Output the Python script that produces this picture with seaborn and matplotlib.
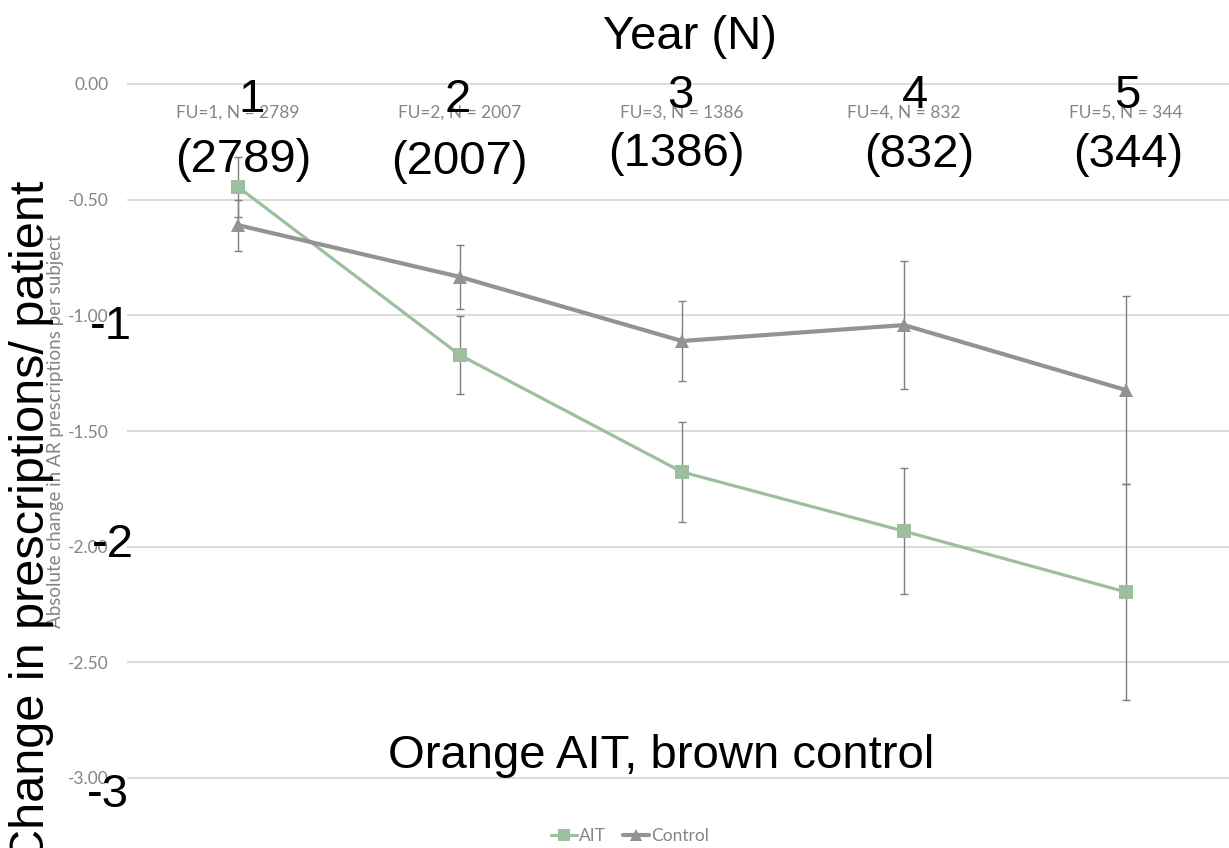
import matplotlib
matplotlib.use("Agg")
import matplotlib.pyplot as plt
from matplotlib.lines import Line2D
import seaborn as sns
import pandas as pd

# ---- data ----
years = [1, 2, 3, 4, 5]
n_subjects = [2789, 2007, 1386, 832, 344]
ait_mean = [-0.445, -1.172, -1.677, -1.933, -2.196]
ait_err = [0.13, 0.17, 0.215, 0.273, 0.465]
ctrl_mean = [-0.61, -0.834, -1.111, -1.042, -1.323]
ctrl_err = [0.11, 0.14, 0.175, 0.275, 0.405]
cat_labels = [f"FU={y}, N = {n}" for y, n in zip(years, n_subjects)]
y_ticks = [0.0, -0.5, -1.0, -1.5, -2.0, -2.5, -3.0]
overlay_ticks = ["-1", "-2", "-3"]

df = pd.DataFrame({
    "year": years * 2,
    "value": ait_mean + ctrl_mean,
    "group": ["AIT"] * 5 + ["Control"] * 5,
})

W, H = 1229, 848
sns.set_theme(style="white")
plt.rcParams["font.family"] = ["Lato", "DejaVu Sans"]

fig = plt.figure(figsize=(W / 100, H / 100), dpi=100)

def fx(x):
    return x / W

def fy(y):
    return 1 - y / H

# axes: x=1 at px 238, 222 px per category; y=0 at px 84, -3 at px 778
ppu_x = 222.0
ppu_y = (778 - 84) / 3.0
y_top, y_bot = 0.05, -3.05
ax_left = 127
x_lo = 0.5
x_hi = x_lo + (W - ax_left) / ppu_x
top_px = 84 - y_top * ppu_y
bot_px = 84 - y_bot * ppu_y
ax = fig.add_axes([fx(ax_left), fy(bot_px), (W - ax_left) / W, (bot_px - top_px) / H])

green = "#9dbf9d"
gray = "#939393"
ebar = "#7f7f7f"
txt_gray = "#858585"
small = 12.5

ax.set_xlim(x_lo, x_hi)
ax.set_ylim(y_bot, y_top)
ax.set_yticks(y_ticks)
ax.set_yticklabels([f"{v:.2f}" for v in y_ticks], color=txt_gray, fontsize=small)
ax.yaxis.grid(True, color="#d9d9d9", linewidth=1.3)
ax.xaxis.grid(False)
for s in ax.spines.values():
    s.set_visible(False)
ax.tick_params(axis="y", length=0, pad=13)

ax.set_xticks(years)
ax.set_xticklabels(cat_labels, color=txt_gray, fontsize=small)
ax.tick_params(axis="x", length=0, bottom=False, labelbottom=False,
               top=True, labeltop=True, pad=-35)

# error bars (drawn beneath markers)
ax.errorbar(years, ait_mean, yerr=ait_err, fmt="none", ecolor=ebar,
            elinewidth=1.0, capsize=3.0, capthick=1.0, zorder=2)
ax.errorbar(years, ctrl_mean, yerr=ctrl_err, fmt="none", ecolor=ebar,
            elinewidth=1.0, capsize=3.0, capthick=1.0, zorder=2)

sns.lineplot(data=df, x="year", y="value", hue="group", style="group",
             palette={"AIT": green, "Control": gray},
             markers={"AIT": "s", "Control": "^"},
             dashes={"AIT": "", "Control": ""},
             markersize=10, markeredgewidth=0, ax=ax, legend=False,
             zorder=3)
for line, lw in zip(ax.lines[-2:], [2.3, 3.0]):
    line.set_linewidth(lw)
ax.set_xlabel("")
ax.set_ylabel("")

# small axis title
fig.text(fx(56), fy(431), "Absolute change in AR prescriptions per subject",
         rotation=90, ha="center", va="center", color=txt_gray, fontsize=13.5)

# legend
handles = [
    Line2D([], [], color=green, marker="s", markersize=9, linewidth=2.3, markeredgewidth=0),
    Line2D([], [], color=gray, marker="^", markersize=9, linewidth=3.0, markeredgewidth=0),
]
fig.legend(handles, ["AIT", "Control"], loc="center", bbox_to_anchor=(fx(630), fy(836)),
           ncol=2, frameon=False, fontsize=small, labelcolor=txt_gray,
           handlelength=1.5, handletextpad=0.1, columnspacing=1.0)

# ---- big overlay text ----
big = dict(family=["Liberation Sans", "DejaVu Sans"], fontsize=34, color="black",
           ha="center", va="center")
fig.text(fx(690), fy(37), "Year (N)", **big)
year_pos = [(252, 100), (458, 100), (680, 96), (915, 96), (1127, 96)]
n_pos = [(243, 160), (459, 162), (676, 154), (919, 155), (1128, 155)]
for y, (px, py) in zip(years, year_pos):
    fig.text(fx(px), fy(py), str(y), **big)
for n, (px, py) in zip(n_subjects, n_pos):
    fig.text(fx(px), fy(py), f"({n})", **big)
for t, (px, py) in zip(overlay_ticks, [(111, 327), (113, 545), (108, 795)]):
    fig.text(fx(px), fy(py), t, **big)
fig.text(fx(661), fy(756), "Orange AIT, brown control", **big)
big_v = dict(big, fontsize=35)
fig.text(fx(32), fy(522), "Change in prescriptions/ patient", rotation=90, **big_v)

fig.savefig("out.png", dpi=100)
